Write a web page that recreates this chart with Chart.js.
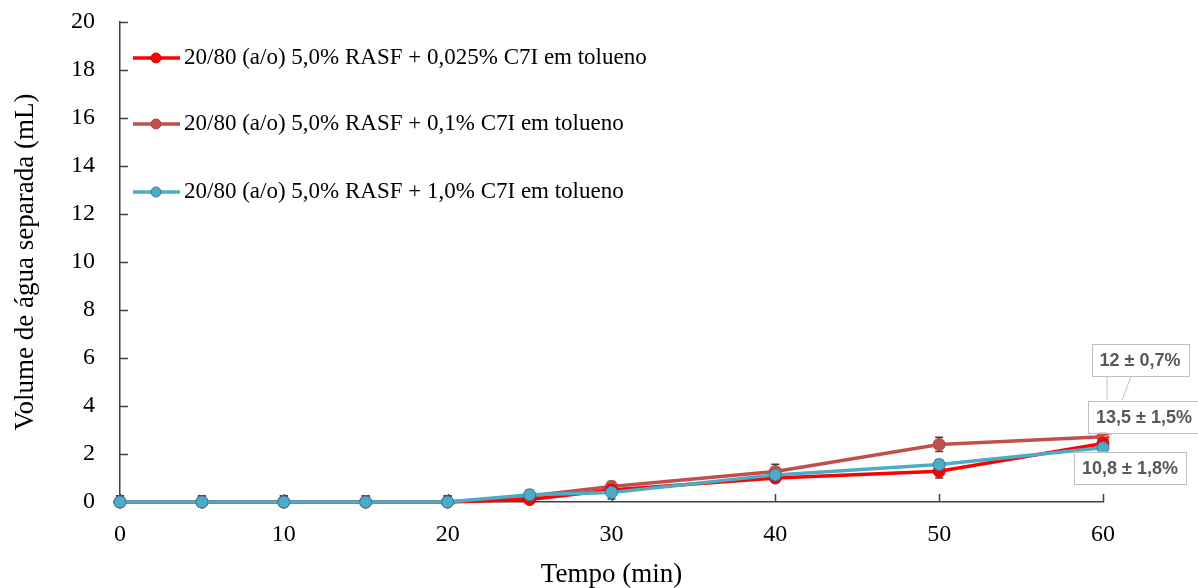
<!DOCTYPE html>
<html>
<head>
<meta charset="utf-8">
<script src="https://cdn.jsdelivr.net/npm/chart.js@4.4.1/dist/chart.umd.min.js"></script>
<style>
    html, body { margin: 0; padding: 0; background: #fff; }
    #wrap { width: 1198px; height: 588px; }
</style>
</head>
<body>
<div id="wrap"><canvas id="grafico"></canvas></div>
<script>
//---------------------------------------------------------------------
// DADOS
//---------------------------------------------------------------------
const tempos = [0, 5, 10, 15, 20, 25, 30, 40, 50, 60];

const volC7I0025 = [0, 0, 0, 0, 0, 0.1, 0.5, 1.0, 1.28, 2.44];
const volC7I01   = [0, 0, 0, 0, 0, 0.25, 0.65, 1.27, 2.4, 2.72];
const volC7I10   = [0, 0, 0, 0, 0, 0.3, 0.4, 1.13, 1.56, 2.26];

const erroC7I0025 = [0.25, 0.25, 0.25, 0.25, 0.25, 0.15, 0.2, 0.15, 0.28, 0.2];
const erroC7I01   = [0.25, 0.25, 0.25, 0.25, 0.25, 0.2, 0.2, 0.3, 0.3, 0.2];
const erroC7I10   = [0.25, 0.25, 0.25, 0.25, 0.25, 0.2, 0.27, 0.2, 0.2, 0.15];

const nomesSeries = [
    "20/80 (a/o) 5,0% RASF + 0,025% C7I em tolueno",
    "20/80 (a/o) 5,0% RASF + 0,1% C7I em tolueno",
    "20/80 (a/o) 5,0% RASF + 1,0% C7I em tolueno"
];
const rotulosFinais = ["12 ± 0,7%", "13,5 ± 1,5%", "10,8 ± 1,8%"];

const ticksX = [0, 10, 20, 30, 40, 50, 60];
const ticksY = [0, 2, 4, 6, 8, 10, 12, 14, 16, 18, 20];

const SERIF = "'Liberation Serif', 'Times New Roman', serif";

const pontos = (vals) => vals.map((v, i) => ({ x: tempos[i], y: v }));

//---------------------------------------------------------------------
// BARRAS DE ERRO
//---------------------------------------------------------------------
const barrasErro = {
    id: 'barrasErro',
    beforeDatasetsDraw(chart) {
        const { ctx, scales: { x, y } } = chart;
        ctx.save();
        ctx.strokeStyle = '#404040';
        ctx.lineWidth = 1.5;
        chart.data.datasets.forEach(ds => {
            ds.erros.forEach((e, i) => {
                const px = x.getPixelForValue(tempos[i]);
                const top = y.getPixelForValue(ds.valores[i] + e);
                const bot = Math.min(y.getPixelForValue(ds.valores[i] - e), y.bottom);
                ctx.beginPath();
                ctx.moveTo(px, top); ctx.lineTo(px, bot);
                ctx.moveTo(px - 4, top); ctx.lineTo(px + 4, top);
                if (bot < y.bottom) { ctx.moveTo(px - 4, bot); ctx.lineTo(px + 4, bot); }
                ctx.stroke();
            });
        });
        ctx.restore();
    }
};

//---------------------------------------------------------------------
// MARCAS DOS EIXOS (para dentro)
//---------------------------------------------------------------------
const marcasEixos = {
    id: 'marcasEixos',
    beforeDatasetsDraw(chart) {
        const { ctx, chartArea: a, scales: { x, y } } = chart;
        ctx.save();
        ctx.strokeStyle = '#404040';
        ctx.lineWidth = 1.5;
        ctx.beginPath();
        ticksX.forEach(v => {
            const px = Math.round(x.getPixelForValue(v)) + 0.5;
            ctx.moveTo(px, a.bottom); ctx.lineTo(px, a.bottom - 8);
        });
        ticksY.forEach(v => {
            const py = Math.round(y.getPixelForValue(v)) + 0.5;
            ctx.moveTo(a.left, py); ctx.lineTo(a.left + 8, py);
        });
        ctx.stroke();
        ctx.restore();
    }
};

//---------------------------------------------------------------------
// LEGENDA DENTRO DO GRÁFICO
//---------------------------------------------------------------------
const legendaInterna = {
    id: 'legendaInterna',
    afterDraw(chart) {
        const { ctx, chartArea: a } = chart;
        const linhas = [36, 102, 170];
        ctx.save();
        chart.data.datasets.forEach((ds, i) => {
            const y = a.top + linhas[i];
            const x0 = a.left + 13;
            ctx.strokeStyle = ds.borderColor;
            ctx.lineWidth = 3.5;
            ctx.beginPath();
            ctx.moveTo(x0, y); ctx.lineTo(x0 + 47, y);
            ctx.stroke();
            ctx.beginPath();
            ctx.arc(x0 + 23, y, 5, 0, Math.PI * 2);
            ctx.fillStyle = ds.pointBackgroundColor;
            ctx.fill();
            ctx.lineWidth = 1;
            ctx.strokeStyle = ds.pointBorderColor;
            ctx.stroke();
            ctx.fillStyle = '#000';
            ctx.font = "23px " + SERIF;
            ctx.textAlign = 'left';
            ctx.textBaseline = 'middle';
            ctx.fillText(ds.label, x0 + 51, y);
        });
        ctx.restore();
    }
};

//---------------------------------------------------------------------
// RÓTULOS FINAIS (caixas com linha de chamada)
//---------------------------------------------------------------------
const rotulos = {
    id: 'rotulos',
    afterDatasetsDraw(chart) {
        const { ctx, scales: { x, y } } = chart;
        const ult = tempos.length - 1;
        const desloc = [[37, -83], [41, -20], [27, 20]];
        const chamadas = [[[4, -67], [4, -43]], [[28, -67], [19, -43]], [[1, -7], [9, -9]]];
        ctx.save();
        ctx.font = "bold 18px 'Liberation Sans', Arial, sans-serif";
        const px = x.getPixelForValue(tempos[ult]);
        const ry = y.getPixelForValue(chart.data.datasets[0].valores[ult]);
        ctx.strokeStyle = '#BFBFBF';
        ctx.lineWidth = 1;
        chamadas.forEach(c => {
            ctx.beginPath();
            ctx.moveTo(px + c[0][0], ry + c[0][1]);
            ctx.lineTo(px + c[1][0], ry + c[1][1]);
            ctx.stroke();
        });
        chart.data.datasets.forEach((ds, i) => {
            const py = y.getPixelForValue(ds.valores[ult]);
            const cx = px + desloc[i][0];
            const cy = py + desloc[i][1];
            const w = ctx.measureText(ds.rotulo).width + 16;
            const h = 32;
            ctx.fillStyle = '#fff';
            ctx.fillRect(cx - w / 2, cy - h / 2, w, h);
            ctx.strokeStyle = '#BFBFBF';
            ctx.strokeRect(Math.round(cx - w / 2) + 0.5, Math.round(cy - h / 2) + 0.5, Math.round(w), h);
            ctx.fillStyle = '#595959';
            ctx.textAlign = 'center';
            ctx.textBaseline = 'middle';
            ctx.fillText(ds.rotulo, cx, cy + 1);
        });
        ctx.restore();
    }
};

//---------------------------------------------------------------------
// GRÁFICO
//---------------------------------------------------------------------
const serie = (nome, vals, erros, rotulo, cor, borda, ordem) => ({
    label: nome,
    data: pontos(vals),
    valores: vals,
    erros: erros,
    rotulo: rotulo,
    borderColor: cor,
    backgroundColor: cor,
    pointBackgroundColor: cor,
    pointBorderColor: borda,
    pointBorderWidth: 1,
    pointRadius: 6,
    borderWidth: 3.5,
    tension: 0,
    clip: false,
    order: ordem
});

new Chart(document.getElementById('grafico'), {
    type: 'line',
    data: {
        datasets: [
            serie(nomesSeries[0], volC7I0025, erroC7I0025, rotulosFinais[0], '#FF0000', '#E00000', 1),
            serie(nomesSeries[1], volC7I01, erroC7I01, rotulosFinais[1], '#C0504D', '#B04540', 2),
            serie(nomesSeries[2], volC7I10, erroC7I10, rotulosFinais[2], '#4BACC6', '#2F7DB0', 0)
        ]
    },
    options: {
        responsive: true,
        maintainAspectRatio: false,
        animation: false,
        layout: { padding: { left: 0, right: 95, top: 22, bottom: 0 } },
        plugins: {
            legend: { display: false },
            tooltip: { enabled: false }
        },
        scales: {
            x: {
                type: 'linear',
                min: 0,
                max: 60,
                afterBuildTicks: s => { s.ticks = ticksX.map(v => ({ value: v })); },
                afterFit: s => { s.height = 86; s.paddingLeft = 0; s.paddingRight = 0; },
                grid: { display: true, drawOnChartArea: false, drawTicks: false },
                border: { display: true, color: '#404040', width: 1.5 },
                ticks: { color: '#000', padding: 18, font: { family: SERIF, size: 24 } },
                title: {
                    display: true,
                    text: 'Tempo (min)',
                    color: '#000',
                    padding: 0,
                    font: { family: SERIF, size: 27, lineHeight: 1 }
                }
            },
            y: {
                min: 0,
                max: 20,
                afterBuildTicks: s => { s.ticks = ticksY.map(v => ({ value: v })); },
                afterFit: s => { s.width = 120; s.paddingTop = 0; s.paddingBottom = 0; },
                grid: { display: true, drawOnChartArea: false, drawTicks: false },
                border: { display: true, color: '#404040', width: 1.5 },
                ticks: { color: '#000', padding: 25, font: { family: SERIF, size: 24 } },
                title: {
                    display: true,
                    text: 'Volume de água separada (mL)',
                    color: '#000',
                    padding: { top: 12, bottom: 0 },
                    font: { family: SERIF, size: 27, lineHeight: 1 }
                }
            }
        }
    },
    plugins: [marcasEixos, barrasErro, rotulos, legendaInterna]
});
</script>
</body>
</html>
